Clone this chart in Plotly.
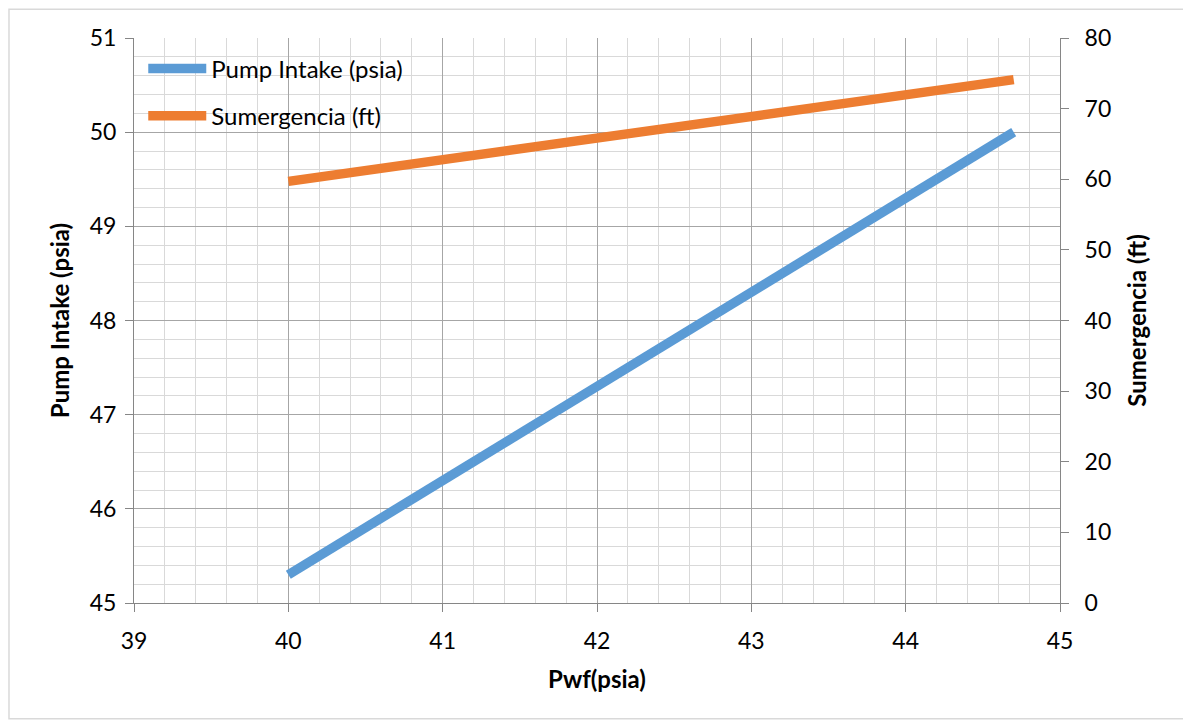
import plotly.graph_objects as go

pwf = [40, 41, 42, 43, 44, 44.7]
pump_intake = [45.3, 46.3, 47.3, 48.3, 49.3, 50.0]
sumergencia = [59.7, 62.8, 65.8, 68.9, 71.9, 74.1]

FONT = "Lato, 'Open Sans', sans-serif"
AXC = "#868686"

fig = go.Figure()
fig.add_trace(go.Scatter(x=pwf, y=pump_intake, mode="lines", name="Pump Intake (psia)",
                         line=dict(color="#5B9BD5", width=9.5), legendgroup="a"))
fig.add_trace(go.Scatter(x=pwf, y=sumergencia, mode="lines", name="Sumergencia (ft)",
                         line=dict(color="#ED7D31", width=9.5), yaxis="y2", legendgroup="b"))

fig.update_layout(
    width=1191, height=723,
    margin=dict(l=126, r=139, t=30, b=128, autoexpand=False),
    paper_bgcolor="white", plot_bgcolor="white",
    font=dict(family=FONT, size=23, color="black"),
    xaxis=dict(range=[39, 45], dtick=1, tick0=39, showgrid=True, gridcolor="#A6A6A6", gridwidth=1,
               minor=dict(dtick=0.2, showgrid=True, gridcolor="#D9D9D9", gridwidth=1),
               ticks="outside", ticklen=8, tickcolor=AXC, showline=True, linecolor=AXC, zeroline=False,
               ticklabelstandoff=9,
               title=dict(text="<b>Pwf(psia)</b>", font=dict(size=24), standoff=18)),
    yaxis=dict(range=[45, 51], dtick=1, tick0=45, showgrid=True, gridcolor="#A6A6A6", gridwidth=1,
               minor=dict(dtick=0.2, showgrid=True, gridcolor="#D9D9D9", gridwidth=1),
               ticks="outside", ticklen=8, tickcolor=AXC, showline=True, linecolor=AXC, zeroline=False,
               ticklabelstandoff=4,
               title=dict(text="<b>Pump Intake (psia)</b>", font=dict(size=24), standoff=13)),
    yaxis2=dict(range=[0, 80], dtick=10, overlaying="y", side="right", showgrid=False,
                ticks="outside", ticklen=8, tickcolor=AXC, showline=True, linecolor=AXC, zeroline=False,
                ticklabelstandoff=11,
                title=dict(text="<b>Sumergencia (ft)</b>", font=dict(size=24), standoff=18)),
    legend=dict(x=0.01, y=0.985, xanchor="left", yanchor="top", bgcolor="rgba(0,0,0,0)",
                itemwidth=58, tracegroupgap=13, font=dict(size=24)),
    showlegend=True,
    shapes=[dict(type="rect", xref="paper", yref="paper", x0=-0.135, x1=1.134, y0=-0.205, y1=1.051,
                 line=dict(color="#D9D9D9", width=1.5), layer="below")],
)

fig.write_html("out.html")
